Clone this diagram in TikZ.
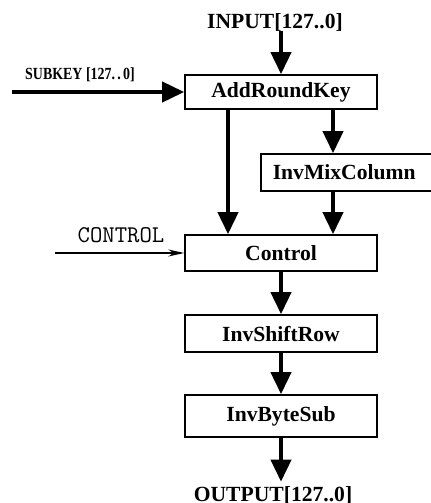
\documentclass[tikz,border=0pt]{standalone}
\usepackage{fontspec}
\setmainfont{Liberation Serif}
\usetikzlibrary{arrows.meta}

\tikzset{
    blk/.style={draw=black, line width=0.8pt, minimum width=96pt, minimum height=18pt,
        inner sep=0pt, font=\fontsize{10.8}{12}\selectfont\bfseries},
    lbl/.style={inner sep=0pt, font=\fontsize{10.8}{12}\selectfont\bfseries},
    bigarr/.style={line width=2pt, -{Triangle[length=11pt,width=10pt]}},
    thinarr/.style={line width=0.6pt, -{Stealth[length=8pt,width=3.5pt]}}
}

\begin{document}
\begin{tikzpicture}[x=0.5pt,y=-0.5pt]
    \useasboundingbox (0,0) rectangle (430,503);

    % boxes
    \node[blk, minimum height=17pt] (ark) at (281,92) {AddRoundKey};
    \node[blk, anchor=west, minimum width=0pt, minimum height=18.5pt, text width=88pt,
        align=left, inner xsep=6pt] (imc) at (260,172.5) {InvMixColumn};
    \node[blk] (ctl) at (281,253) {Control};
    \node[blk, minimum height=18.5pt] (isr) at (281,333.5) {InvShiftRow};
    \node[blk, minimum height=21pt] (ibs) at (281,416) {InvByteSub};

    % labels
    \node[lbl] (inp) at (275,22) {INPUT[127..0]};
    \node[lbl] (outp) at (273,495) {OUTPUT[127..0]};
    \node[inner sep=0pt, font=\fontsize{8.5}{9}\selectfont\bfseries, xscale=0.82] (skl) at (80,75) {SUBKEY [127.\,.\,0]};
    \node[inner sep=0pt, font=\fontsize{12}{13}\selectfont\ttfamily] (ctll) at (121,235) {CONTROL};

    \coordinate (skin) at (12,92);
    \coordinate (ctlin) at (55,253);
    \coordinate (lx) at (228,0);
    \coordinate (rx) at (333,0);

    % connectors
    \draw[bigarr] (inp.south -| ark.north) -- (ark.north);
    \draw[bigarr] (skin) -- (ark.west);
    \draw[bigarr] (ark.south -| lx) -- (ctl.north -| lx);
    \draw[bigarr] (ark.south -| rx) -- (imc.north -| rx);
    \draw[bigarr] (imc.south -| rx) -- (ctl.north -| rx);
    \draw[thinarr] (ctlin) -- (ctl.west);
    \draw[bigarr] (ctl) -- (isr);
    \draw[bigarr] (isr) -- (ibs);
    \draw[bigarr] (ibs.south) -- ([yshift=2pt]ibs.south |- outp.north);
\end{tikzpicture}
\end{document}
